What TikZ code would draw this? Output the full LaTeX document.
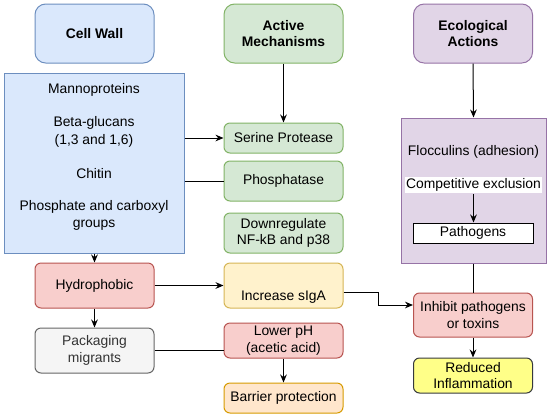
\documentclass[tikz,border=0pt]{standalone}
\usepackage{fontspec}
\setmainfont{Liberation Sans}
\usetikzlibrary{arrows.meta}
\definecolor{wallfill}{HTML}{DAE8FC}
\definecolor{walldraw}{HTML}{6C8EBF}
\definecolor{actfill}{HTML}{D5E8D4}
\definecolor{actdraw}{HTML}{82B366}
\definecolor{ecofill}{HTML}{E1D5E7}
\definecolor{ecodraw}{HTML}{9673A6}
\definecolor{redfill}{HTML}{F8CECC}
\definecolor{reddraw}{HTML}{B85450}
\definecolor{ylwfill}{HTML}{FFF2CC}
\definecolor{ylwdraw}{HTML}{D6B656}
\definecolor{orgfill}{HTML}{FFE6CC}
\definecolor{orgdraw}{HTML}{D79B00}
\definecolor{grayfill}{HTML}{F5F5F5}
\definecolor{graydraw}{HTML}{666666}
\definecolor{graytext}{HTML}{333333}
\definecolor{inflfill}{HTML}{FFFF88}
\definecolor{infldraw}{HTML}{36393D}
\begin{document}
\begin{tikzpicture}[x=0.75pt,y=-0.75pt,line width=0.75pt,
  every node/.style={font=\fontsize{10.4}{12.4}\selectfont,align=center,inner sep=0pt},
  box/.style={draw=#1draw,fill=#1fill,rounded corners=4.5pt,minimum width=89.25pt},
  title/.style={box=#1,rounded corners=8pt,minimum height=44.25pt,font=\fontsize{10.4}{12}\selectfont\bfseries},
  >={Stealth[length=6pt,width=5pt]}]
\useasboundingbox[fill=white] (0,0) rectangle (550,419);
% column heads
\node[title=wall] (wallt) at (94.5,33.5) {Cell Wall};
\node[title=act] (actt) at (283.5,33.5) {Active\\Mechanisms};
\node[title=eco] (ecot) at (473,33.5) {Ecological\\Actions};
% cell wall
\node[draw=walldraw,fill=wallfill,minimum width=135pt,minimum height=135pt] (wall) at (94,163) {};
\node (mann) at (94,90) {Mannoproteins};
\node[font=\fontsize{10.4}{13.5}\selectfont] (glu) at (94,132) {Beta-glucans\\(1,3 and 1,6)};
\node (chit) at (94,174) {Chitin};
\node (phgr) at (94,215.5) {Phosphate and carboxyl\\groups};
\node[box=red,minimum height=33.75pt] (hyd) at (94.5,285.5) {Hydrophobic};
\node[box=gray,minimum height=33.75pt,text=graytext] (pack) at (94.5,350.5) {Packaging\\migrants};
% active mechanisms
\node[box=act,minimum height=22.5pt] (ser) at (283.5,138) {Serine Protease};
\node[box=act,minimum height=30pt] (phs) at (283.5,181) {Phosphatase};
\node[box=act,minimum height=30pt] (down) at (283.5,233) {Downregulate\\NF-kB and p38};
\node[box=ylw,minimum height=33.75pt,text height=25.7pt,text depth=2.5pt] (iga) at (283.5,285.5) {Increase sIgA};
\node[box=red,minimum height=26.25pt] (ph) at (283.5,340.5) {Lower pH\\(acetic acid)};
\node[box=org,minimum height=22.5pt] (bar) at (283.5,398) {Barrier protection};
% ecological actions
\node[draw=ecodraw,fill=ecofill,minimum width=108.75pt,minimum height=108.75pt] (eco) at (473.5,190.5) {};
\node (floc) at (473.5,152) {Flocculins (adhesion)};
\node[fill=white,inner xsep=1pt,inner ysep=1.5pt] (comp) at (473.5,185) {Competitive exclusion};
\node[draw=black,fill=white,minimum width=90pt,minimum height=15pt] (path) at (473,233) {Pathogens};
\node[box=red,minimum height=33pt] (inh) at (473,315) {Inhibit pathogens\\or toxins};
\node[box=infl,minimum height=26.25pt] (infl) at (473,375.5) {Reduced\\Inflammation};
% connectors
\draw[->] (actt.south) -- (ser.north);
\draw[->] (ecot.south) -- (eco.north);
\draw[->] (wall.east |- ser.west) -- (ser.west);
\draw (wall.east |- phs.west) -- (phs.west);
\draw[->] (wall.south -| hyd.north) -- (hyd.north);
\draw[->] (hyd.south) -- (pack.north);
\draw[->] (hyd.east) -- (iga.west |- hyd.east);
\draw (pack.east) -- (ph.west |- pack.east);
\draw[->] (ph.south) -- (bar.north);
\draw[->] ([yshift=-5.6pt]iga.east) -- ++(35,0) |- ([yshift=7.5pt]inh.west);
\draw[->] (comp.south) -- (comp.south |- path.north);
\draw (eco.south -| inh.north) -- (inh.north);
\draw[->] (inh.south) -- (infl.north);
\end{tikzpicture}
\end{document}
